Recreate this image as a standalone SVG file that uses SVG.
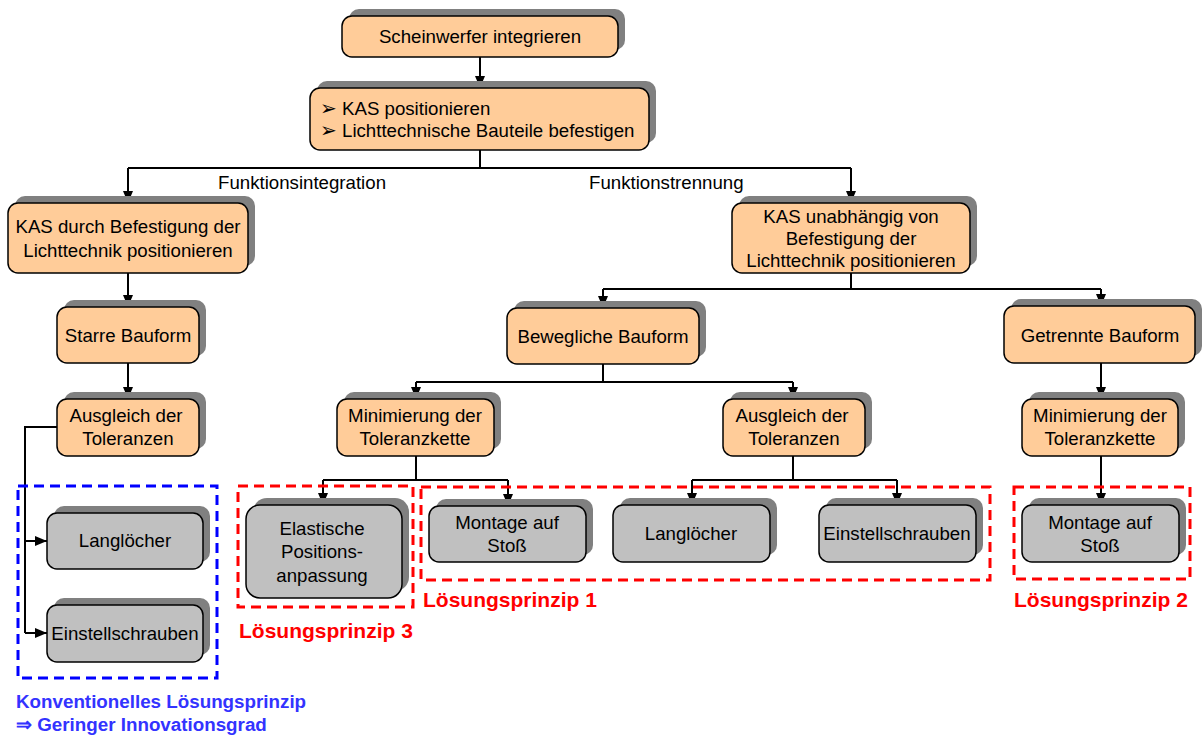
<svg xmlns="http://www.w3.org/2000/svg" width="1202" height="736" viewBox="0 0 1202 736">
<defs>
<style>
text{font-family:"Liberation Sans",Arial,sans-serif;font-size:18.67px;fill:#000}
.c{text-anchor:middle}
.sh{fill:#808080}
.o{fill:#FFCC99;stroke:#000;stroke-width:1.5}
.g{fill:#C0C0C0;stroke:#000;stroke-width:1.5}
.ln{fill:none;stroke:#000;stroke-width:2}
.ar{fill:none;stroke:#000;stroke-width:2;marker-end:url(#ah)}
.dr{fill:none;stroke:#FF0000;stroke-width:3;stroke-dasharray:10 6}
.db{fill:none;stroke:#0000FF;stroke-width:3;stroke-dasharray:10 6}
.rl{font-weight:bold;fill:#FF0000;font-size:21px}
.bl{font-weight:bold;fill:#3333FF;font-size:18.8px}
.bu{font-family:"DejaVu Sans",sans-serif;font-size:20px}
</style>
<marker id="ah" viewBox="0 0 12 10" refX="12" refY="5" markerWidth="12" markerHeight="10" markerUnits="userSpaceOnUse" orient="auto">
<path d="M0,0 L12,5 L0,10 Z" fill="#000"/>
</marker>
</defs>
<rect width="1202" height="736" fill="#fff"/>

<g id="connectors">
<line class="ar" x1="480" y1="57" x2="480" y2="88"/>
<line class="ln" x1="480" y1="150" x2="480" y2="168"/>
<line class="ln" x1="128" y1="168" x2="851" y2="168"/>
<line class="ar" x1="128" y1="168" x2="128" y2="203"/>
<line class="ar" x1="851" y1="168" x2="851" y2="203"/>
<line class="ar" x1="128" y1="273" x2="128" y2="307"/>
<line class="ar" x1="128" y1="363" x2="128" y2="399"/>
<polyline class="ln" points="57,427 25,427 25,633"/>
<line class="ar" x1="25" y1="541" x2="47" y2="541"/>
<line class="ar" x1="25" y1="633" x2="47" y2="633"/>
<line class="ln" x1="851" y1="273" x2="851" y2="289"/>
<line class="ln" x1="603" y1="289" x2="1101" y2="289"/>
<line class="ar" x1="603" y1="289" x2="603" y2="308"/>
<line class="ar" x1="1101" y1="289" x2="1101" y2="306"/>
<line class="ln" x1="603" y1="364" x2="603" y2="382"/>
<line class="ln" x1="416" y1="382" x2="793" y2="382"/>
<line class="ar" x1="416" y1="382" x2="416" y2="399"/>
<line class="ar" x1="793" y1="382" x2="793" y2="399"/>
<line class="ar" x1="1101" y1="363" x2="1101" y2="399"/>
<line class="ar" x1="1101" y1="456" x2="1101" y2="505"/>
<line class="ln" x1="416" y1="456" x2="416" y2="480"/>
<line class="ln" x1="323" y1="480" x2="508" y2="480"/>
<line class="ar" x1="323" y1="480" x2="323" y2="505"/>
<line class="ar" x1="508" y1="480" x2="508" y2="506"/>
<line class="ln" x1="793" y1="456" x2="793" y2="480"/>
<line class="ln" x1="692" y1="480" x2="897" y2="480"/>
<line class="ar" x1="692" y1="480" x2="692" y2="505"/>
<line class="ar" x1="897" y1="480" x2="897" y2="505"/>
<text x="218" y="189">Funktionsintegration</text>
<text x="589" y="189">Funktionstrennung</text>
</g>

<g id="n1"><rect class="sh" x="349" y="9" width="276" height="41" rx="10"/><rect class="o" x="342" y="16" width="276" height="41" rx="10"/><text class="c" x="480" y="43">Scheinwerfer integrieren</text></g>
<g id="n2"><rect class="sh" x="317" y="81" width="339" height="62" rx="10"/><rect class="o" x="310" y="88" width="339" height="62" rx="10"/>
<text class="bu" x="320" y="115">➢</text><text x="342" y="115">KAS positionieren</text>
<text class="bu" x="320" y="137">➢</text><text x="342" y="137">Lichttechnische Bauteile befestigen</text></g>
<g id="n3"><rect class="sh" x="15" y="196" width="240" height="70" rx="10"/><rect class="o" x="8" y="203" width="240" height="70" rx="10"/><text class="c" x="128" y="233">KAS durch Befestigung der</text><text class="c" x="128" y="257">Lichttechnik positionieren</text></g>
<g id="n4"><rect class="sh" x="739" y="196" width="238" height="70" rx="10"/><rect class="o" x="732" y="203" width="238" height="70" rx="10"/><text class="c" x="851" y="223">KAS unabhängig von</text><text class="c" x="851" y="245">Befestigung der</text><text class="c" x="851" y="267">Lichttechnik positionieren</text></g>
<g id="n5"><rect class="sh" x="64" y="300" width="142" height="56" rx="10"/><rect class="o" x="57" y="307" width="142" height="56" rx="10"/><text class="c" x="128" y="342">Starre Bauform</text></g>
<g id="n6"><rect class="sh" x="64" y="392" width="142" height="57" rx="10"/><rect class="o" x="57" y="399" width="142" height="57" rx="10"/><text class="c" x="126" y="422">Ausgleich der</text><text class="c" x="128" y="445">Toleranzen</text></g>
<g id="n7"><rect class="sh" x="514" y="301" width="192" height="56" rx="10"/><rect class="o" x="507" y="308" width="192" height="56" rx="10"/><text class="c" x="603" y="343">Bewegliche Bauform</text></g>
<g id="n8"><rect class="sh" x="1011" y="299" width="191" height="57" rx="10"/><rect class="o" x="1004" y="306" width="191" height="57" rx="10"/><text class="c" x="1100" y="342">Getrennte Bauform</text></g>
<g id="n9"><rect class="sh" x="344" y="392" width="157" height="57" rx="10"/><rect class="o" x="337" y="399" width="157" height="57" rx="10"/><text class="c" x="415" y="422">Minimierung der</text><text class="c" x="415" y="445">Toleranzkette</text></g>
<g id="n10"><rect class="sh" x="730" y="392" width="142" height="57" rx="10"/><rect class="o" x="723" y="399" width="142" height="57" rx="10"/><text class="c" x="792" y="422">Ausgleich der</text><text class="c" x="794" y="445">Toleranzen</text></g>
<g id="n11"><rect class="sh" x="1029" y="392" width="156" height="57" rx="10"/><rect class="o" x="1022" y="399" width="156" height="57" rx="10"/><text class="c" x="1100" y="422">Minimierung der</text><text class="c" x="1100" y="445">Toleranzkette</text></g>
<g id="n12"><rect class="sh" x="54" y="506" width="156" height="56" rx="10"/><rect class="g" x="47" y="513" width="156" height="56" rx="10"/><text class="c" x="125" y="547">Langlöcher</text></g>
<g id="n13"><rect class="sh" x="54" y="598" width="156" height="57" rx="10"/><rect class="g" x="47" y="605" width="156" height="57" rx="10"/><text class="c" x="125" y="640">Einstellschrauben</text></g>
<g id="n14"><rect class="sh" x="253" y="498" width="156" height="93" rx="14"/><rect class="g" x="246" y="505" width="156" height="93" rx="14"/><text class="c" x="322" y="535">Elastische</text><text class="c" x="322" y="558">Positions-</text><text class="c" x="322" y="582">anpassung</text></g>
<g id="n15"><rect class="sh" x="436" y="499" width="157" height="56" rx="10"/><rect class="g" x="429" y="506" width="157" height="56" rx="10"/><text class="c" x="507" y="529">Montage auf</text><text class="c" x="507" y="552">Stoß</text></g>
<g id="n16"><rect class="sh" x="620" y="498" width="157" height="57" rx="10"/><rect class="g" x="613" y="505" width="157" height="57" rx="10"/><text class="c" x="691" y="540">Langlöcher</text></g>
<g id="n17"><rect class="sh" x="826" y="498" width="157" height="57" rx="10"/><rect class="g" x="819" y="505" width="157" height="57" rx="10"/><text class="c" x="897" y="540">Einstellschrauben</text></g>
<g id="n18"><rect class="sh" x="1029" y="498" width="157" height="57" rx="10"/><rect class="g" x="1022" y="505" width="157" height="57" rx="10"/><text class="c" x="1100" y="529">Montage auf</text><text class="c" x="1100" y="552">Stoß</text></g>

<g id="groups">
<rect class="db" x="18" y="486" width="199" height="192"/>
<rect class="dr" x="238" y="486" width="175" height="121"/>
<rect class="dr" x="421" y="487" width="569" height="93"/>
<rect class="dr" x="1014" y="487" width="176" height="92"/>
<text class="rl" x="239" y="638">Lösungsprinzip 3</text>
<text class="rl" x="423" y="607">Lösungsprinzip 1</text>
<text class="rl" x="1014" y="607">Lösungsprinzip 2</text>
<text class="bl" x="16" y="708">Konventionelles Lösungsprinzip</text>
<text class="bl" x="16" y="731">⇒ Geringer Innovationsgrad</text>
</g>
</svg>
